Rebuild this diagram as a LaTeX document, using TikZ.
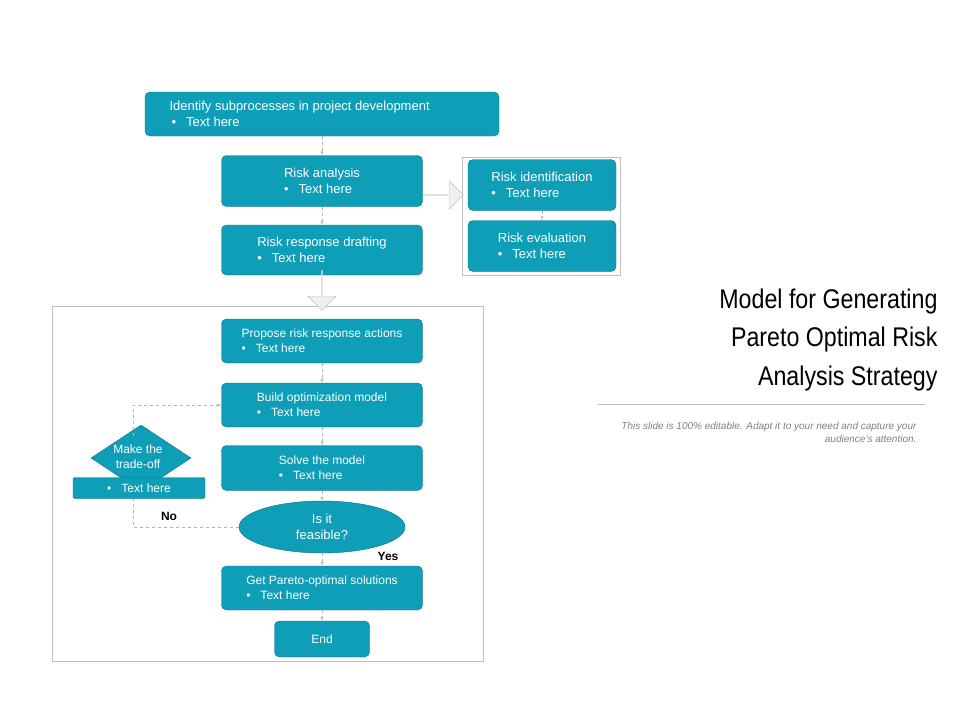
\documentclass[tikz,border=0pt]{standalone}
\usepackage{fontspec}
\setmainfont{Liberation Sans}
\usetikzlibrary{shapes.geometric,shapes.arrows}
\definecolor{boxteal}{RGB}{14,158,184}
\definecolor{tealdark}{RGB}{10,110,130}
\definecolor{framegray}{RGB}{190,190,190}
\newcommand{\bul}{\textbullet\hspace{10pt}}
\tikzset{
  procbox/.style={draw=tealdark, fill=boxteal, rounded corners=5pt, text=white, font=\fontsize{12}{14}\selectfont, align=left, inner sep=0pt},
  flowline/.style={draw=gray!60, dashed, -{latex}, line width=0.4pt},
  bigarrow/.style={draw=gray!50, fill=gray!12, single arrow, single arrow head extend=5pt, minimum height=40pt, minimum width=28pt, inner sep=0pt}
}
\begin{document}
\begin{tikzpicture}[x=1pt, y=-1pt]
  \useasboundingbox (0,0) rectangle (960,720);
  % frames
  \draw[framegray] (462,157) rectangle (620,275);
  \draw[framegray] (52,306) rectangle (483,661);
  % upper boxes
  \node[procbox, minimum width=354pt, minimum height=44pt] (ident) at (322,114) {};
  \node[white, font=\fontsize{13}{15}\selectfont, align=left, anchor=west] at (166,114) {Identify subprocesses in project development\\[1pt]\hspace*{2pt}\bul Text here};
  \node[procbox, minimum width=201pt, minimum height=51pt, font=\fontsize{13}{15}\selectfont] (analysis) at (322,181) {Risk analysis\\[1pt]\bul Text here};
  \node[procbox, minimum width=201pt, minimum height=50pt, font=\fontsize{13}{15}\selectfont] (drafting) at (322,250) {Risk response drafting\\[1pt]\bul Text here};
  \node[procbox, minimum width=148pt, minimum height=51pt, font=\fontsize{13}{15}\selectfont] (riskid) at (542,185) {Risk identification\\[1pt]\bul Text here};
  \node[procbox, minimum width=148pt, minimum height=51pt, font=\fontsize{13}{15}\selectfont] (riskeval) at (542,246) {Risk evaluation\\[1pt]\bul Text here};
  \node[bigarrow] (arrright) at (443,195) {};
  \node[bigarrow, rotate=-90] (arrdown) at (322,290) {};
  % lower flow
  \node[procbox, minimum width=201pt, minimum height=44pt] (propose) at (322,341) {Propose risk response actions\\[1pt]\bul Text here};
  \node[procbox, minimum width=201pt, minimum height=44pt] (build) at (322,405) {Build optimization model\\[1pt]\bul Text here};
  \node[procbox, minimum width=201pt, minimum height=45pt] (solve) at (322,468) {Solve the model\\[1pt]\bul Text here};
  \node[ellipse, draw=tealdark, fill=boxteal, text=white, minimum width=166pt, minimum height=52pt, inner sep=0pt, align=center, font=\fontsize{13}{16}\selectfont] (feasible) at (322,527) {Is it\\feasible?};
  \node[procbox, minimum width=201pt, minimum height=44pt] (pareto) at (322,588) {Get Pareto-optimal solutions\\[1pt]\bul Text here};
  \node[procbox, align=center, minimum width=95pt, minimum height=36pt] (finish) at (322,639) {End};
  \node[diamond, draw=tealdark, fill=boxteal, minimum width=100pt, minimum height=66pt, aspect=1.5, inner sep=0pt] (tradeoff) at (141,458) {};
  \node[white, align=center, font=\fontsize{12}{15}\selectfont] at (138,457) {Make the\\trade-off};
  \node[procbox, minimum width=132pt, minimum height=21pt, rounded corners=2pt] (tradetext) at (139,488) {\bul Text here};
  \node[font=\bfseries\fontsize{12}{14}\selectfont] (nolbl) at (169,516) {No};
  \node[font=\bfseries\fontsize{12}{14}\selectfont] (yeslbl) at (388,556) {Yes};
  \coordinate (nocorner) at (133,499);
  \coordinate (loopstart) at (133,436);
  % connectors
  \draw[flowline] (ident) -- (analysis);
  \draw[flowline] (analysis) -- (drafting);
  \draw[flowline] (riskid) -- (riskeval);
  \draw[flowline] (propose) -- (build);
  \draw[flowline] (build) -- (solve);
  \draw[flowline] (solve) -- (feasible);
  \draw[flowline] (feasible) -- (pareto);
  \draw[flowline] (pareto) -- (finish);
  \draw[gray!60, dashed] (feasible.west) -| (nocorner);
  \draw[flowline] (loopstart) |- (build.west);
  % title
  \node[anchor=east, align=right, font=\fontsize{27}{38.5}\selectfont\addfontfeatures{FakeStretch=0.86}] (title) at (941,340) {Model for Generating\\Pareto Optimal Risk\\Analysis Strategy};
  \draw[gray!50, double, double distance=1pt] (598,405) -- (925,405);
  \node[anchor=east, align=right, text=gray, font=\itshape\fontsize{10}{13}\selectfont] (note) at (920,432) {This slide is 100\% editable. Adapt it to your need and capture your\\audience's attention.};
\end{tikzpicture}
\end{document}
